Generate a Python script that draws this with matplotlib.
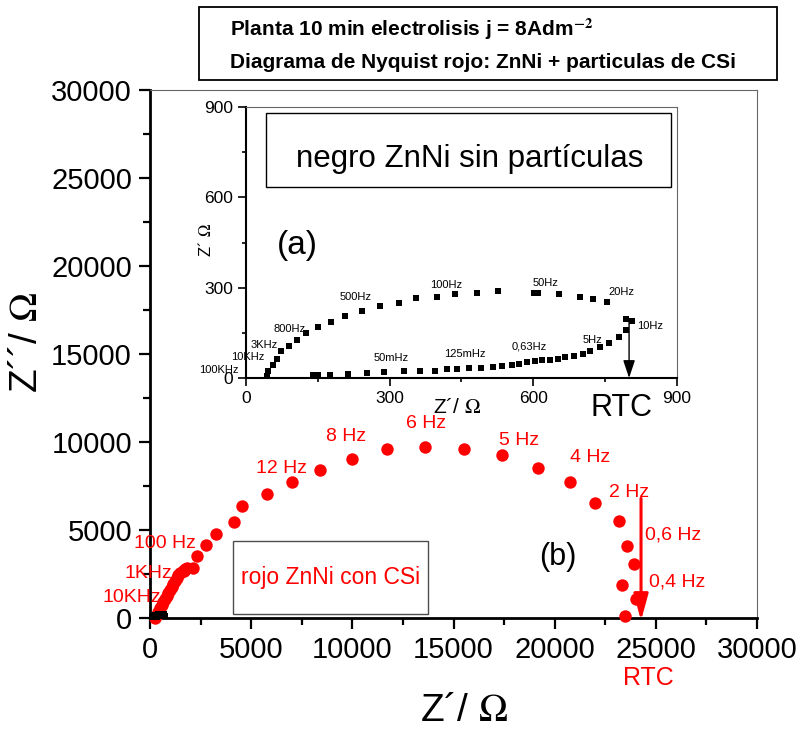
import numpy as np
import matplotlib
matplotlib.use("Agg")
import matplotlib.pyplot as plt
from matplotlib.patches import Rectangle
from matplotlib.ticker import MultipleLocator

plt.rcParams["font.family"] = ["Liberation Sans", "DejaVu Sans"]
plt.rcParams["mathtext.fontset"] = "stix"

# --- red: ZnNi + CSi particles (main plot), Z' and -Z'' in ohm ---
red_zre = [250, 330, 410, 490, 580, 660, 740, 820, 900, 990, 1070, 1150, 1240,
           1320, 1400, 1500, 1620, 1700, 1740, 1850, 2140, 2310, 2750, 3270, 4150,
           4570, 5790, 7020, 8420, 9990, 11720, 13570, 15510, 17400, 19170,
           20740, 21990, 23160, 23560, 23920, 23340, 24020, 23480]
red_zim = [0, 170, 360, 550, 740, 900, 1060, 1230, 1400, 1590, 1780, 1950, 2120,
           2280, 2440, 2560, 2690, 2670, 2770, 2830, 2820, 3520, 4130, 4770, 5460,
           6380, 7060, 7750, 8430, 9030, 9580, 9700, 9600, 9240, 8540,
           7720, 6550, 5510, 4090, 3070, 1860, 1080, 110]

# --- black: ZnNi without particles (inset) ---
blk_zre = [43, 47, 56, 65, 73, 89, 106, 125, 151, 178, 207, 243, 279, 319, 356,
           399, 437, 483, 526, 601, 609, 654, 697, 725, 754, 794, 806, 793, 779,
           758, 740, 719, 704, 684, 666, 651, 634, 619, 604, 587, 570, 555, 534,
           515, 490, 465, 441, 420, 394, 363, 330, 289, 253, 214, 175, 150, 140]
blk_zim = [5, 24, 44, 63, 89, 107, 127, 148, 168, 187, 206, 224, 238, 248, 265,
           270, 278, 283, 288, 282, 282, 279, 268, 261, 251, 196, 189, 160, 137,
           116, 102, 91, 81, 74, 69, 64, 61, 59, 55, 52, 48, 44, 41,
           37, 33, 32, 29, 29, 24, 24, 22, 19, 15, 13, 11, 9, 9]

red_labels = ["10KHz", "1KHz", "100 Hz", "12 Hz", "8 Hz", "6 Hz", "5 Hz",
              "4 Hz", "2 Hz", "0,6 Hz", "0,4 Hz"]
red_label_x = [-905, -82, 741, 6494, 9706, 13625, 18252, 21745, 23688, 25862, 26060]
red_label_y = [1174, 2538, 4243, 8504, 10303, 11062, 10114, 9129, 7121, 4716, 2064]

blk_labels = ["100KHz", "10KHz", "3KHz", "800Hz", "500Hz", "100Hz", "50Hz",
              "20Hz", "10Hz", "5Hz", "0,63Hz", "125mHz", "50mHz"]
blk_label_x = [-56, 3, 38, 90, 229, 419, 626, 785, 843, 723, 591, 456, 303]
blk_label_y = [25, 70, 110, 163, 269, 309, 315, 286, 172, 126, 103, 80, 68]

rtc_red = 24265
rtc_blk = 800

fig = plt.figure(figsize=(8.02, 7.31), dpi=100)
ax = fig.add_axes([0.187, 0.1546, 0.757, 0.722])

ax.scatter(red_zre, red_zim, s=80, color="red", zorder=3, clip_on=False, linewidths=0)
ax.scatter(blk_zre, blk_zim, s=12, marker="s", color="black", zorder=4, clip_on=False, linewidths=0)

ax.set_xlim(0, 30000)
ax.set_ylim(0, 30000)
ax.xaxis.set_major_locator(MultipleLocator(5000))
ax.yaxis.set_major_locator(MultipleLocator(5000))
ax.xaxis.set_minor_locator(MultipleLocator(2500))
ax.yaxis.set_minor_locator(MultipleLocator(2500))
ax.tick_params(which="both", direction="out", top=False, right=False, width=1.6)
ax.tick_params(which="major", length=8, labelsize=21, pad=5)
ax.tick_params(which="minor", length=5)
for s in ["left", "bottom"]:
    ax.spines[s].set_linewidth(2)
for s in ["top", "right"]:
    ax.spines[s].set_linewidth(0.8)
    ax.spines[s].set_color("0.4")

for lab, x, y in zip(red_labels, red_label_x, red_label_y):
    ax.text(x, y, lab, color="red", fontsize=14, ha="center", va="center", clip_on=False)
ax.text(24626, -3426, "RTC", color="red", fontsize=18, ha="center", va="center", clip_on=False)
ax.text(20163, 3466, "(b)", color="black", fontsize=22, ha="center", va="center")
ax.annotate("", xy=(rtc_red, -150), xytext=(rtc_red, 6800),
            arrowprops=dict(arrowstyle="-|>,head_length=0.8,head_width=0.22",
                            color="red", lw=2.2, mutation_scale=20,
                            shrinkA=0, shrinkB=0), annotation_clip=False)

ax.add_patch(Rectangle((4102, 227), 13739 - 4102, 4375 - 227, fill=False,
                       edgecolor="0.3", lw=1, zorder=2))
ax.text((4102 + 13739) / 2, (227 + 4375) / 2, "rojo ZnNi con CSi", color="red",
        fontsize=16.5, ha="center", va="center")

fig.text(0.579, 0.027, "Z\u00b4/ $\\Omega$", fontsize=28, ha="center", va="center")
fig.text(0.034, 0.531, "Z\u00b4\u00b4/ $\\Omega$", fontsize=28, ha="center", va="center",
         rotation=90)

# --- inset ---
axi = fig.add_axes([0.3067, 0.4829, 0.5374, 0.3707])
axi.scatter(blk_zre, blk_zim, s=24, marker="s", color="black", linewidths=0,
            clip_on=False, zorder=3)
axi.set_xlim(0, 900)
axi.set_ylim(0, 900)
axi.xaxis.set_major_locator(MultipleLocator(300))
axi.yaxis.set_major_locator(MultipleLocator(300))
axi.xaxis.set_minor_locator(MultipleLocator(150))
axi.yaxis.set_minor_locator(MultipleLocator(150))
axi.tick_params(which="both", direction="out", top=False, right=False, width=1.2)
axi.tick_params(which="major", length=6, labelsize=12.5, pad=3)
axi.tick_params(which="minor", length=3)
for s in ["left", "bottom"]:
    axi.spines[s].set_linewidth(1.5)
for s in ["top", "right"]:
    axi.spines[s].set_linewidth(0.8)
    axi.spines[s].set_color("0.4")

for lab, x, y in zip(blk_labels, blk_label_x, blk_label_y):
    axi.text(x, y, lab, fontsize=8, ha="center", va="center", clip_on=False)
axi.annotate("", xy=(rtc_blk, 0), xytext=(rtc_blk, 190),
             arrowprops=dict(arrowstyle="-|>,head_length=0.9,head_width=0.3",
                             color="black", lw=1, mutation_scale=12,
                             shrinkA=0, shrinkB=0), annotation_clip=False)
axi.text(784, -100, "RTC", fontsize=22, ha="center", va="center", clip_on=False)
axi.text(0.49, -0.11, "Z\u00b4/ $\\Omega$", fontsize=15, ha="center", va="center",
         transform=axi.transAxes)
axi.text(-0.095, 0.51, "Z\u00b4 $\\Omega$", fontsize=12, ha="center", va="center",
         rotation=90, transform=axi.transAxes)
axi.text(0.12, 0.49, "(a)", fontsize=24, ha="center", va="center", transform=axi.transAxes)

axi.add_patch(Rectangle((0.046, 0.705), 0.94, 0.273, fill=False, edgecolor="black",
                        lw=1, transform=axi.transAxes))
axi.text(0.519, 0.81, "negro ZnNi sin partículas", fontsize=22.5, ha="center",
         va="center", transform=axi.transAxes)

# --- title box ---
fig.patches.append(Rectangle((0.248, 0.891), 0.721, 0.100, fill=False,
                             edgecolor="black", lw=1.3, transform=fig.transFigure,
                             figure=fig))
fig.text(0.287, 0.960, "Planta 10 min electrolisis j = 8Adm$^{\\mathbf{-2}}$",
         fontsize=15, fontweight="bold", va="center", ha="left")
fig.text(0.287, 0.914, "Diagrama de Nyquist rojo: ZnNi + particulas de CSi",
         fontsize=15, fontweight="bold", va="center", ha="left")

fig.savefig("out.png", dpi=100)
